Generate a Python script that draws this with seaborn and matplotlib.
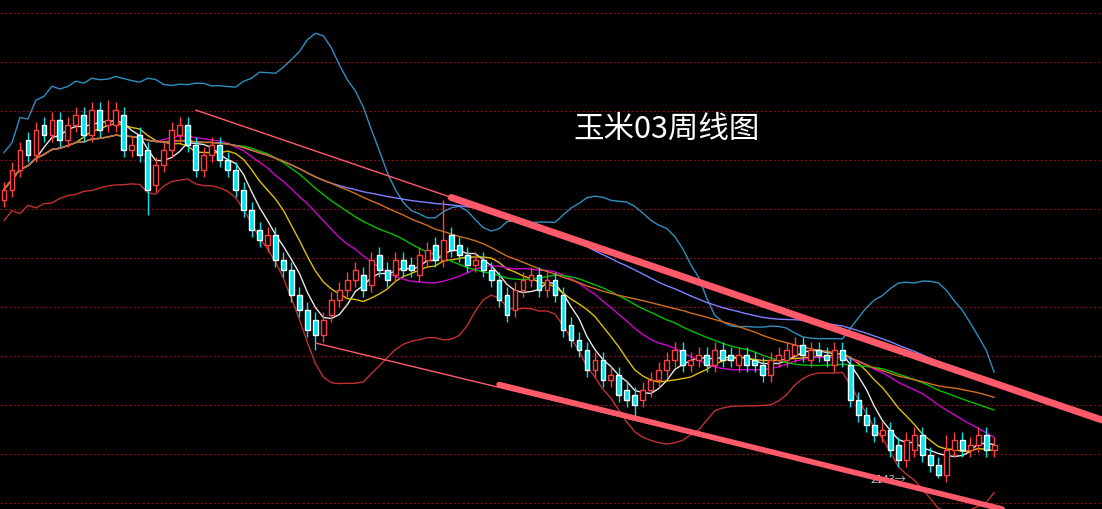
import numpy as np
import pandas as pd
import matplotlib
matplotlib.use("Agg")
import matplotlib.pyplot as plt
import seaborn as sns

# weekly candles (price units)
opens = [2700,2720,2760,2820,2790,2850,2830,2860,2820,2850,2870,2830,2880,2850,2850,
         2870,2800,2830,2800,2730,2770,2800,2830,2850,
         2810,2760,2790,2810,2780,2760,
         2720,2680,2640,2610,2630,2580,2560,2510,2480,
         2460,2430,2470,2500,2520,2540,
         2550,2530,2590,2560,2550,2580,2570,2550,2580,2610,2580,2630,2610,
         2590,2570,2580,2560,2540,2510,2480,2520,
         2540,2550,2520,2540,2510,2450,
         2420,2400,2360,2380,2340,2350,2320,2310,2300,
         2320,2340,2360,2380,2400,2370,2380,2390,2370,2400,2390,2370,2390,2380,2370,
         2350,2380,2380,2390,2410,2380,2400,2390,2370,2400,2370,2300,2270,
         2250,2230,2240,2210,2180,2200,
         2230,2190,2170,2150,2200,2220,2200,2210,2230,2200]
closes = [2720,2760,2800,2790,2840,2830,2860,2820,2850,2870,2830,2880,2840,2860,2880,
          2800,2810,2790,2720,2770,2800,2840,2850,2810,
          2760,2790,2810,2780,2760,2720,
          2680,2640,2620,2630,2580,2560,2510,2480,2440,
          2430,2460,2500,2520,2540,2560,
          2520,2580,2560,2540,2580,2560,2560,2590,2600,2580,2620,2600,2590,
          2570,2580,2560,2540,2500,2470,2520,2540,
          2550,2520,2540,2510,2440,2420,
          2400,2360,2380,2340,2350,2310,2300,2290,2320,
          2340,2360,2380,2400,2370,2380,2390,2370,2400,2380,2380,2390,2370,2370,2350,
          2380,2390,2400,2410,2390,2400,2390,2380,2400,2380,2300,2270,2250,
          2230,2240,2200,2180,2220,2230,
          2190,2170,2150,2200,2220,2200,2210,2230,2200,2210]
wick_hi = {55: 2700, 13: 2900, 118: 2230}
wick_lo = {18: 2670, 39: 2400, 117: 2143, 79: 2260}
ma_periods = [5, 10, 20, 30, 60, 40]
ma_colors = ["#e8e8e8", "#e0c000", "#d000d0", "#00c000", "#8080ff", "#d07020"]
title = "玉米03周线图"
low_label = "2143→"

n = len(closes)
df = pd.DataFrame({"x": np.arange(n), "open": opens, "close": closes})
df["high"] = df[["open", "close"]].max(axis=1) + 15
df["low"] = df[["open", "close"]].min(axis=1) - 15
for k, v in wick_hi.items():
    df.loc[k, "high"] = v
for k, v in wick_lo.items():
    df.loc[k, "low"] = v

sns.set_theme(style="dark", rc={"axes.facecolor": "black", "figure.facecolor": "black"})
plt.rcParams['font.family'] = ['Noto Sans CJK SC', 'DejaVu Sans']

fig = plt.figure(figsize=(11.02, 5.09), dpi=100)
ax = fig.add_axes([0, 0, 1, 1])
ax.set_facecolor("black")
ax.set_xlim(-0.5, 137.5)
ax.set_ylim(2081, 3099)
ax.axis("off")

# grid lines
for yv in np.arange(2094, 3099, 98):
    ax.axhline(yv, color="#8a1010", lw=0.8, ls=(0, (2, 2)))

# bollinger bands
mid = df["close"].rolling(20, min_periods=1).mean()
sd = df["close"].rolling(20, min_periods=2).std().bfill()
df["bu"] = mid + 2.6 * sd
df["bl"] = mid - 2.2 * sd
sns.lineplot(data=df, x="x", y="bu", color="#2f8fbf", lw=1, ax=ax)
sns.lineplot(data=df, x="x", y="bl", color="#c03030", lw=1, ax=ax)

for p, c in zip(ma_periods, ma_colors):
    df[f"ma{p}"] = df["close"].rolling(p, min_periods=1).mean()
    sns.lineplot(data=df, x="x", y=f"ma{p}", color=c, lw=1, ax=ax)

# candles
for _, r in df.iterrows():
    col = "#ff4040" if r["close"] >= r["open"] else "#00e5ee"
    ax.vlines(r["x"], r["low"], r["high"], color=col, lw=1, zorder=3)
    lo, hi = min(r["open"], r["close"]), max(r["open"], r["close"])
    h = max(hi - lo, 2)
    if r["close"] >= r["open"]:
        ax.bar(r["x"], h, bottom=lo, width=0.6, facecolor="black", edgecolor=col, lw=1, zorder=4)
    else:
        ax.bar(r["x"], h, bottom=lo, width=0.6, color=col, zorder=4)

# trend channel
ax.plot([24, 137.5], [2879, 2259], color="#ff5a6a", lw=1, zorder=5)
ax.plot([56, 137.5], [2704, 2259], color="#ff5a6a", lw=5, zorder=5)
ax.plot([39, 125], [2413, 2081], color="#ff5a6a", lw=1, zorder=5)
ax.plot([62, 125], [2330, 2081], color="#ff5a6a", lw=4, zorder=5)

ax.text(0.605, 0.745, title, transform=ax.transAxes, color="white", fontsize=22, ha="center", va="center")
ax.text(108.5, 2140, low_label, color="#c0c0c0", fontsize=8, va="center")

fig.savefig("out.png", dpi=100, facecolor="black")
